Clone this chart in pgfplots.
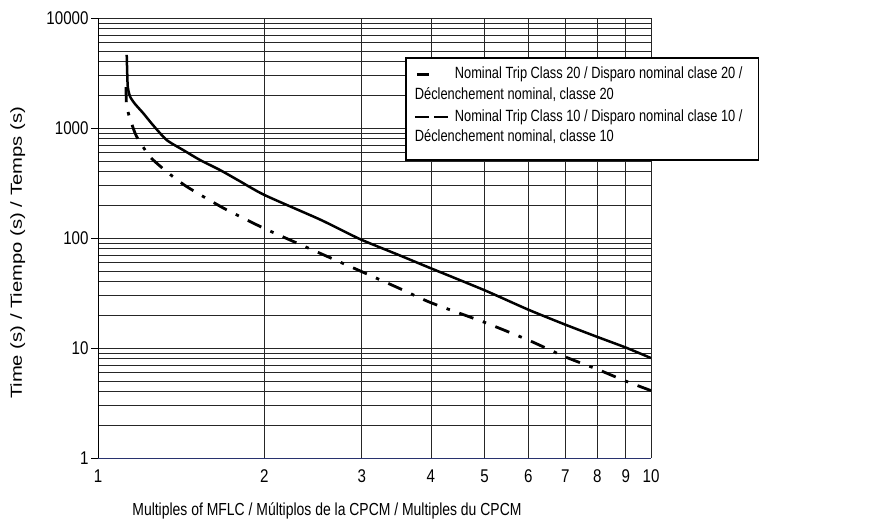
\documentclass[border=0pt]{standalone}
\usepackage{fontspec}
\setmainfont{Liberation Sans}
\newfontfamily\tickfont[FakeStretch=0.82]{Liberation Sans}
\newfontfamily\legfont[FakeStretch=0.79]{Liberation Sans}
\newfontfamily\xlabfont[FakeStretch=0.8]{Liberation Sans}
\newfontfamily\ylabfont[FakeStretch=1.27]{Liberation Sans}
\usepackage{pgfplots}
\pgfplotsset{compat=1.18}
\definecolor{axnavy}{RGB}{40,50,110}
\pgfplotstableread{
x y
1.127 4616
1.129 3400
1.132 2371
1.143 1928
1.167 1652
1.208 1358
1.257 1064
1.331 778
1.43 625
1.529 512
1.662 415
1.8 331
2 246
2.5 150
2.739 120
3 96
3.5 70
4 53
5 33.5
6 22.3
7 16.3
8 12.6
9 10.1
10 8.1
}\classtwenty
\pgfplotstableread{
x y
1.124 2350
1.127 1563
1.15 1104
1.175 834
1.242 548
1.331 401
1.43 305
1.529 248
1.7 183
2 122
2.5 74
3 49.4
3.5 35
4 25.8
5 17.1
6 11.8
7 8.3
8 6.4
9 5.0
10 4.1
}\classten
\begin{document}
\begin{tikzpicture}[x=1bp,y=1bp]
\begin{axis}[
  at={(0,0)}, anchor=south west,
  scale only axis, width=553bp, height=440bp,
  xmode=log, ymode=log,
  xmin=1, xmax=10, ymin=1, ymax=10000,
  axis x line*=bottom, axis y line*=left,
  axis line style={-},
  x axis line style={draw=axnavy, line width=0.9bp},
  y axis line style={draw=black, line width=0.9bp},
  xtick={1,2,3,4,5,6,7,8,9,10},
  xticklabels={1,2,3,4,5,6,7,8,9,10},
  ytick={1,10,100,1000,10000},
  yticklabels={1,10,100,1000,10000},
  minor xtick={},
  minor ytick={2,3,4,5,6,7,8,9,20,30,40,50,60,70,80,90,200,300,400,500,600,700,800,900,2000,3000,4000,5000,6000,7000,8000,9000},
  xmajorgrids, ymajorgrids, yminorgrids,
  major grid style={black!85, line width=0.7bp},
  minor grid style={black!85, line width=0.7bp},
  tick align=outside,
  major tick length=7bp, minor tick length=0pt,
  xtick style={draw=none},
  ytick style={black, line width=0.7bp},
  /pgf/number format/assume math mode=true,
  tick label style={font=\tickfont\fontsize{18.5}{20}\selectfont},
  xticklabel style={yshift=-1bp},
  yticklabel style={xshift=1bp},
  xlabel={Multiples of MFLC / Múltiplos de la CPCM / Multiples du CPCM},
  ylabel={Time (s) / Tiempo (s) / Temps (s)},
  xlabel style={font=\xlabfont\fontsize{17.5}{20}\selectfont, at={(axis description cs:0.414,-0.12)}, anchor=center},
  ylabel style={font=\ylabfont\fontsize{16}{18}\selectfont, at={(axis description cs:-0.145,0.466)}, anchor=center, rotate=0},
  legend style={at={(0.555,0.911)}, anchor=north west, draw=black, line width=1.6bp, fill=white,
    font=\legfont\fontsize{16.3}{20.5}\selectfont, cells={align=left}, inner xsep=8bp, inner ysep=7bp, row sep=5bp},
  legend cell align=left,
]
\addplot[black, line width=2.5bp, line join=round, smooth, tension=0.4,
  legend image code/.code={\path[draw=none] (0bp,0bp) -- (37bp,0bp); \draw[black, line width=2.5bp, solid] (2bp,9.5bp) -- (14bp,9.5bp);}]
  table[x=x,y=y]{\classtwenty};
\addlegendentry{Nominal Trip Class 20 / Disparo nominal clase 20 /\hspace*{6bp}\\\hspace*{-40bp}Déclenchement nominal, classe 20}
\addplot[black, line width=2.8bp, smooth, tension=0.4, dash pattern=on 15bp off 10bp on 3.5bp off 10bp,
  legend image code/.code={\path[draw=none] (0bp,0bp) -- (37bp,0bp); \draw[black, line width=2.2bp, dash pattern=on 14bp off 5bp] (0bp,13.2bp) -- (37bp,13.2bp);}]
  table[x=x,y=y]{\classten};
\addlegendentry{Nominal Trip Class 10 / Disparo nominal clase 10 /\\\hspace*{-40bp}Déclenchement nominal, classe 10\\[-13bp]\mbox{}}
\end{axis}
\pgfresetboundingbox
\path[use as bounding box] (-98,-68) rectangle (791,458);
\end{tikzpicture}
\end{document}
